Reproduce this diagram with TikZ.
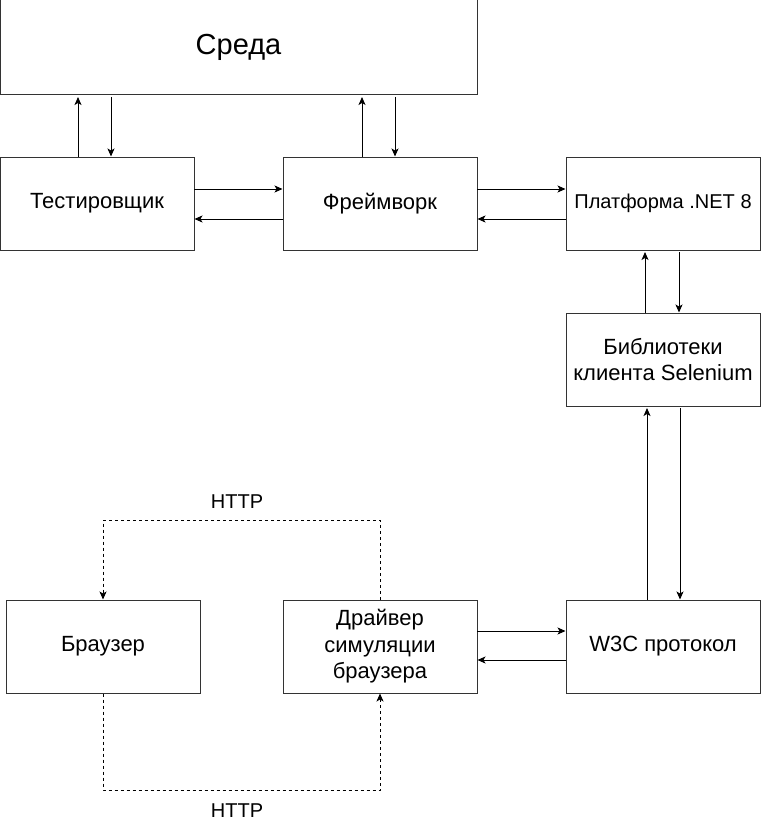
\documentclass[tikz,border=0pt]{standalone}
\usepackage{fontspec}
\setmainfont{Liberation Sans}
\usetikzlibrary{arrows.meta}
\begin{document}
\begin{tikzpicture}[x=1pt,y=-1pt,
  box/.style={draw=black!80,line width=1pt,rectangle,minimum width=194pt,minimum height=93pt,inner sep=0pt,align=center,font=\fontsize{22}{26.5}\selectfont},
  con/.style={line width=1pt,-{Stealth[length=8pt,width=7pt,inset=2pt]}},
  dcon/.style={con,dash pattern=on 3pt off 3pt},
  lbl/.style={font=\fontsize{20}{24}\selectfont,inner sep=0pt}]
\useasboundingbox (0,0) rectangle (761,824);
\node[box,minimum width=477pt,minimum height=95pt,font=\fontsize{29}{34}\selectfont] (env) at (238.5,47.5) {\raisebox{-2pt}{Среда}};
\node[box] (tester) at (97,203.5) {Тестировщик};
\node[box] (fw) at (380,203.5) {Фреймворк};
\node[box,font=\fontsize{20}{24}\selectfont] (net) at (663,203.5) {Платформа .NET 8};
\node[box] (sel) at (663,359.5) {Библиотеки\\клиента Selenium};
\node[box] (w3c) at (663,646.5) {W3C протокол};
\node[box] (drv) at (380,646.5) {Драйвер\\симуляции\\браузера};
\node[box] (br) at (103,646.5) {Браузер};
% tester <-> env
\draw[con] (tester.north -| 78,0) -- (78,97);
\draw[con] (111,97) -- (tester.north -| 111,0);
% fw <-> env
\draw[con] (fw.north -| 362,0) -- (362,97);
\draw[con] (395,97) -- (fw.north -| 395,0);
% tester <-> fw
\draw[con] (194,189) -- (fw.west |- 0,189);
\draw[con] (fw.west |- 0,219) -- (tester.east |- 0,219);
% fw <-> net
\draw[con] (477,189) -- (net.west |- 0,189);
\draw[con] (net.west |- 0,219) -- (fw.east |- 0,219);
% net <-> sel
\draw[con] (sel.north -| 645,0) -- (645,252);
\draw[con] (679,252) -- (sel.north -| 679,0);
% sel <-> w3c
\draw[con] (w3c.north -| 647,0) -- (647,408);
\draw[con] (680,408) -- (w3c.north -| 680,0);
% drv <-> w3c
\draw[con] (477,631) -- (w3c.west |- 0,631);
\draw[con] (w3c.west |- 0,660) -- (drv.east |- 0,660);
% HTTP dashed
\draw[dcon] (drv.north) -- (380,520) -- (103,520) -- (br.north);
\draw[dcon] (br.south) -- (103,790) -- (380,790) -- (drv.south);
\node[lbl] (h1) at (237,502) {HTTP};
\node[lbl] (h2) at (237,811) {HTTP};
\end{tikzpicture}
\end{document}
